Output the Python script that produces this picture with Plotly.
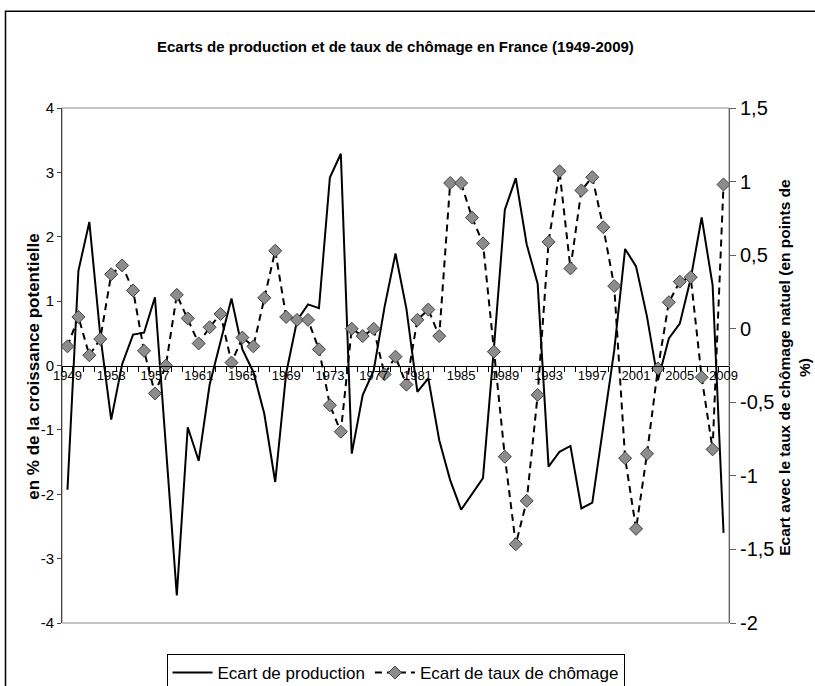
import plotly.graph_objects as go

years = list(range(1949, 2010))

ecart_production = [
    -1.93, 1.47, 2.23, 0.47, -0.84, 0.02, 0.48, 0.51, 1.06, -1.25,
    -3.57, -0.96, -1.48, -0.30, 0.38, 1.04, 0.25, -0.10, -0.75, -1.81,
    -0.12, 0.70, 0.95, 0.89, 2.92, 3.29, -1.37, -0.46, -0.08, 0.91,
    1.74, 0.88, -0.41, -0.20, -1.16, -1.78, -2.24, -1.99, -1.75, 0.27,
    2.42, 2.91, 1.88, 1.27, -1.57, -1.34, -1.25, -2.22, -2.13, -0.95,
    0.23, 1.81, 1.54, 0.76, -0.23, 0.42, 0.65, 1.35, 2.30, 1.25,
    -2.60,
]

ecart_chomage = [
    -0.12, 0.08, -0.18, -0.07, 0.37, 0.43, 0.26, -0.15, -0.44, -0.25,
    0.23, 0.07, -0.10, 0.01, 0.10, -0.23, -0.06, -0.12, 0.21, 0.53,
    0.08, 0.06, 0.06, -0.14, -0.52, -0.70, 0.00, -0.05, 0.00, -0.31,
    -0.19, -0.38, 0.06, 0.13, -0.05, 0.99, 0.99, 0.755, 0.58, -0.156,
    -0.87, -1.465, -1.17, -0.45, 0.59, 1.07, 0.41, 0.94, 1.03, 0.69,
    0.29, -0.88, -1.36, -0.85, -0.27, 0.18, 0.32, 0.35, -0.33, -0.82,
    0.98,
]

x_tick_vals = list(range(1949, 2010, 4))
x_tick_text = [str(v) for v in x_tick_vals]
x_boundaries = [y - 0.5 for y in range(1949, 2011)]
left_tick_vals = [-4, -3, -2, -1, 0, 1, 2, 3, 4]
left_tick_text = ["-4", "-3", "-2", "-1", "0", "1", "2", "3", "4"]
right_tick_vals = [-2, -1.5, -1, -0.5, 0, 0.5, 1, 1.5]
right_tick_text = ["-2", "-1,5", "-1", "-0,5", "0", "0,5", "1", "1,5"]

title_text = "Ecarts de production et de taux de chômage en France (1949-2009)"
left_title = "en % de la croissance potentielle"
right_title = "Ecart avec le taux de chômage natuel (en points de<br>%)"
name_prod = "Ecart de production"
name_chom = "Ecart de taux de chômage"

FONT = "Liberation Sans, Arial, sans-serif"

fig = go.Figure()
fig.add_trace(go.Scatter(
    x=years, y=ecart_production, name=name_prod, mode="lines",
    line=dict(color="black", width=2), xaxis="x", yaxis="y",
))
fig.add_trace(go.Scatter(
    x=years, y=ecart_chomage, name=name_chom, mode="lines+markers",
    line=dict(color="black", width=2, dash="7px,5px"),
    marker=dict(symbol="diamond", size=10, color="#8c8c8c",
                line=dict(color="#404040", width=1)),
    xaxis="x2", yaxis="y2",
))

fig.update_layout(
    template="none",
    width=815, height=686,
    margin=dict(l=62, r=86, t=108, b=63, autoexpand=False),
    paper_bgcolor="white", plot_bgcolor="white",
    font=dict(family=FONT, color="black"),
    showlegend=True,
    legend=dict(
        orientation="h", x=0.5, xanchor="center",
        yref="container", y=1 - 654 / 686, yanchor="top",
        bordercolor="black", borderwidth=1, bgcolor="white",
        font=dict(family=FONT, size=17, color="black"),
        itemwidth=40, tracegroupgap=0,
    ),
    xaxis=dict(
        range=[1948.5, 2009.5], anchor="free", position=0.5,
        tickmode="array", tickvals=x_boundaries,
        ticktext=["" for _ in x_boundaries],
        ticks="outside", ticklen=5, tickcolor="black", tickwidth=1,
        showgrid=False, zeroline=False, automargin=False,
        showline=True, linecolor="black", linewidth=1,
        tickfont=dict(size=13, family=FONT),
    ),
    xaxis2=dict(
        range=[1948.5, 2009.5], overlaying="x", anchor="free", position=0.5,
        side="bottom",
        tickmode="array", tickvals=x_tick_vals, ticktext=x_tick_text,
        ticks="", showgrid=False, zeroline=False, automargin=False,
        showline=False,
        tickfont=dict(size=13, family=FONT),
    ),
    yaxis=dict(
        range=[-4, 4], tickmode="array", tickvals=left_tick_vals,
        ticktext=left_tick_text, ticks="outside", ticklen=4,
        tickcolor="#404040", showgrid=False, zeroline=False, automargin=False,
        showline=True, linecolor="#404040", linewidth=1,
        tickfont=dict(size=15, family=FONT),
    ),
    yaxis2=dict(
        range=[-2, 1.5], overlaying="y", side="right",
        tickmode="array", tickvals=right_tick_vals, ticktext=right_tick_text,
        ticks="outside", ticklen=6, tickcolor="#606060", automargin=False,
        showgrid=False, zeroline=False,
        showline=True, linecolor="#606060", linewidth=1,
        tickfont=dict(size=20, family=FONT),
    ),
    shapes=[
        dict(type="rect", xref="paper", yref="paper", x0=0, x1=1, y0=0, y1=1,
             line=dict(color="#8c8c8c", width=1), layer="below"),
        dict(type="rect", xref="paper", yref="paper",
             x0=-0.0847, x1=1.3, y0=-0.3, y1=1.188,
             line=dict(color="black", width=1.5), layer="below"),
    ],
    annotations=[
        dict(text="<b>" + title_text + "</b>", xref="paper", yref="paper",
             x=0.5, y=1.12, xanchor="center", yanchor="middle",
             showarrow=False, font=dict(size=15, family=FONT)),
        dict(text="<b>" + left_title + "</b>", xref="paper", yref="paper",
             x=-0.044, y=0.497, xanchor="center", yanchor="middle",
             textangle=-90, showarrow=False, font=dict(size=17, family=FONT)),
        dict(text="<b>" + right_title + "</b>", xref="paper", yref="paper",
             x=1.097, y=0.497, xanchor="center", yanchor="middle",
             textangle=-90, showarrow=False, font=dict(size=15.5, family=FONT)),
    ],
)

fig.write_html("out.html")
